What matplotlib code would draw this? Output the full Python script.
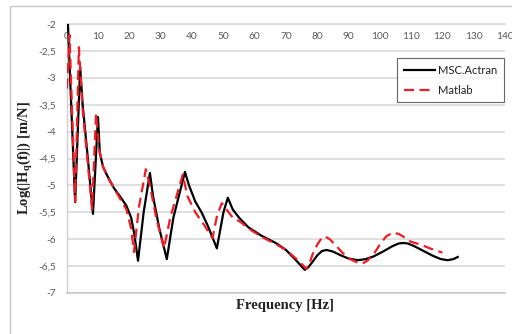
import numpy as np
import matplotlib
matplotlib.use('Agg')
import matplotlib.pyplot as plt
from matplotlib.patches import Rectangle

# MSC.Actran (black, solid)
f_act = [0.3, 2.6, 4.2, 5.0, 6.5, 8.3, 9.9, 10.5, 11.5, 12.7, 15, 16.9, 19, 20.5, 21.5, 22.7,
         24.5, 26.5, 27.5, 29.5, 31.9, 34, 37.7, 39, 41, 43, 45, 47.9, 50, 51.4, 53, 55,
         58, 62, 67, 70, 73, 76, 77, 78.5, 80, 81.5, 83, 85, 87.5, 90, 93, 95.5, 98, 101,
         104, 106, 107.5, 109, 111, 114, 117, 119.5, 121.7, 123.5, 124.9]
h_act = [-2.0, -5.31, -2.8, -3.5, -4.4, -5.53, -3.73, -4.4, -4.65, -4.8, -5.05, -5.2, -5.38, -5.6, -5.9, -6.4,
         -5.5, -4.77, -5.2, -5.8, -6.37, -5.6, -4.75, -5.0, -5.3, -5.5, -5.75, -6.17, -5.5, -5.23, -5.45, -5.6,
         -5.78, -5.93, -6.08, -6.2, -6.38, -6.57, -6.53, -6.42, -6.3, -6.22, -6.2, -6.23, -6.3, -6.36, -6.39, -6.37, -6.32, -6.23,
         -6.13, -6.08, -6.07, -6.08, -6.13, -6.22, -6.31, -6.37, -6.39, -6.37, -6.33]

# Matlab (red, dashed)
f_mat = [0, 0.8, 2.6, 3.8, 5, 6.5, 8.0, 9.3, 10.2, 11.5, 13, 16, 19, 20.5, 21.4, 23,
         25.2, 26.5, 28.5, 31.0, 33, 37, 38.5, 41, 44, 46.5, 48, 49.5, 51, 53, 55.5, 58,
         62, 67, 70, 74, 76.5, 77.5, 78.5, 80, 81.5, 82.5, 84, 86, 88, 90.5, 93, 94.5, 96,
         98, 100, 102, 104, 106, 108, 110, 113, 116, 120]
h_mat = [-3.2, -2.2, -5.3, -2.43, -3.6, -4.5, -5.44, -3.66, -4.3, -4.65, -4.85, -5.15, -5.45, -5.8, -6.24, -5.4,
         -4.7, -5.0, -5.6, -6.17, -5.6, -4.8, -5.2, -5.5, -5.75, -5.98, -5.55, -5.33, -5.45, -5.6, -5.68, -5.8,
         -5.95, -6.1, -6.2, -6.4, -6.55, -6.45, -6.28, -6.1, -5.97, -5.95, -6.0, -6.12, -6.25, -6.37, -6.44, -6.45, -6.4,
         -6.28, -6.1, -5.95, -5.88, -5.9, -5.97, -6.05, -6.1, -6.17, -6.25]

xticks = list(range(0, 150, 10))
yticks = [-2, -2.5, -3, -3.5, -4, -4.5, -5, -5.5, -6, -6.5, -7]
ylabels = [('%g' % v).replace('.', ',') for v in yticks]

fig = plt.figure(figsize=(5.12, 3.34), dpi=100)
fig.patches.append(Rectangle((10/512, -0.1), 1.2, 1 - 6/334 + 0.1, transform=fig.transFigure,
                             fill=False, edgecolor='#c8c8c8', lw=1.0))
ax = fig.add_axes([67/512, 1 - 293/334, (505 - 67)/512, (293 - 24)/334])

ax.plot(f_act, h_act, color='black', lw=1.6, label='MSC.Actran', zorder=3)
ax.plot(f_mat, h_mat, color='#ee1c25', lw=1.6, ls=(0, (4.5, 2.5)), label='Matlab', zorder=4)

ax.set_xlim(0, 140)
ax.set_ylim(-7, -2)
ax.set_yticks(yticks)
ax.set_yticklabels(ylabels)
ax.set_xticks(xticks)
ax.xaxis.set_ticks_position('top')
ax.tick_params(axis='x', length=0, pad=-12, labelsize=7.3, labelcolor='#595959')
ax.tick_params(axis='y', length=0, pad=8, labelsize=7.3, labelcolor='#595959')
for lab in ax.get_xticklabels() + ax.get_yticklabels():
    lab.set_family('Lato')

ax.grid(axis='y', color='#d9d9d9', lw=1.2)
ax.axhline(-2, color='#d9d9d9', lw=1.2, clip_on=False, zorder=0.5)
ax.set_axisbelow(True)
for s in ['right', 'top']:
    ax.spines[s].set_visible(False)
ax.spines['left'].set_color('#d0d0d0')
ax.spines['bottom'].set_color('#c8c8c8')
ax.spines['left'].set_linewidth(1.0)
ax.spines['bottom'].set_linewidth(1.2)

fig.text(285/512, 1 - 305/334, 'Frequency [Hz]', ha='center', va='center',
         family='Liberation Serif', weight='bold', fontsize=10.5, color='#222222')
fig.text(25/512, 1 - 158/334, r'Log(|H$_\mathregular{q}$(f)|) [m/N]', ha='center', va='center',
         rotation=90, family='Liberation Serif', weight='bold', fontsize=10.5, color='#222222')

leg = ax.legend(loc='upper left', bbox_to_anchor=((397 - 67)/438, 1 - (58 - 24)/269),
                fontsize=8, frameon=True, fancybox=False, handlelength=2.8,
                borderpad=0.6, labelspacing=0.8, handletextpad=0.3, borderaxespad=0)
leg.get_frame().set_edgecolor('#404040')
leg.get_frame().set_linewidth(0.8)
for t in leg.get_texts():
    t.set_family('Lato')
    t.set_color('#222222')

fig.savefig('out.png', dpi=100)
